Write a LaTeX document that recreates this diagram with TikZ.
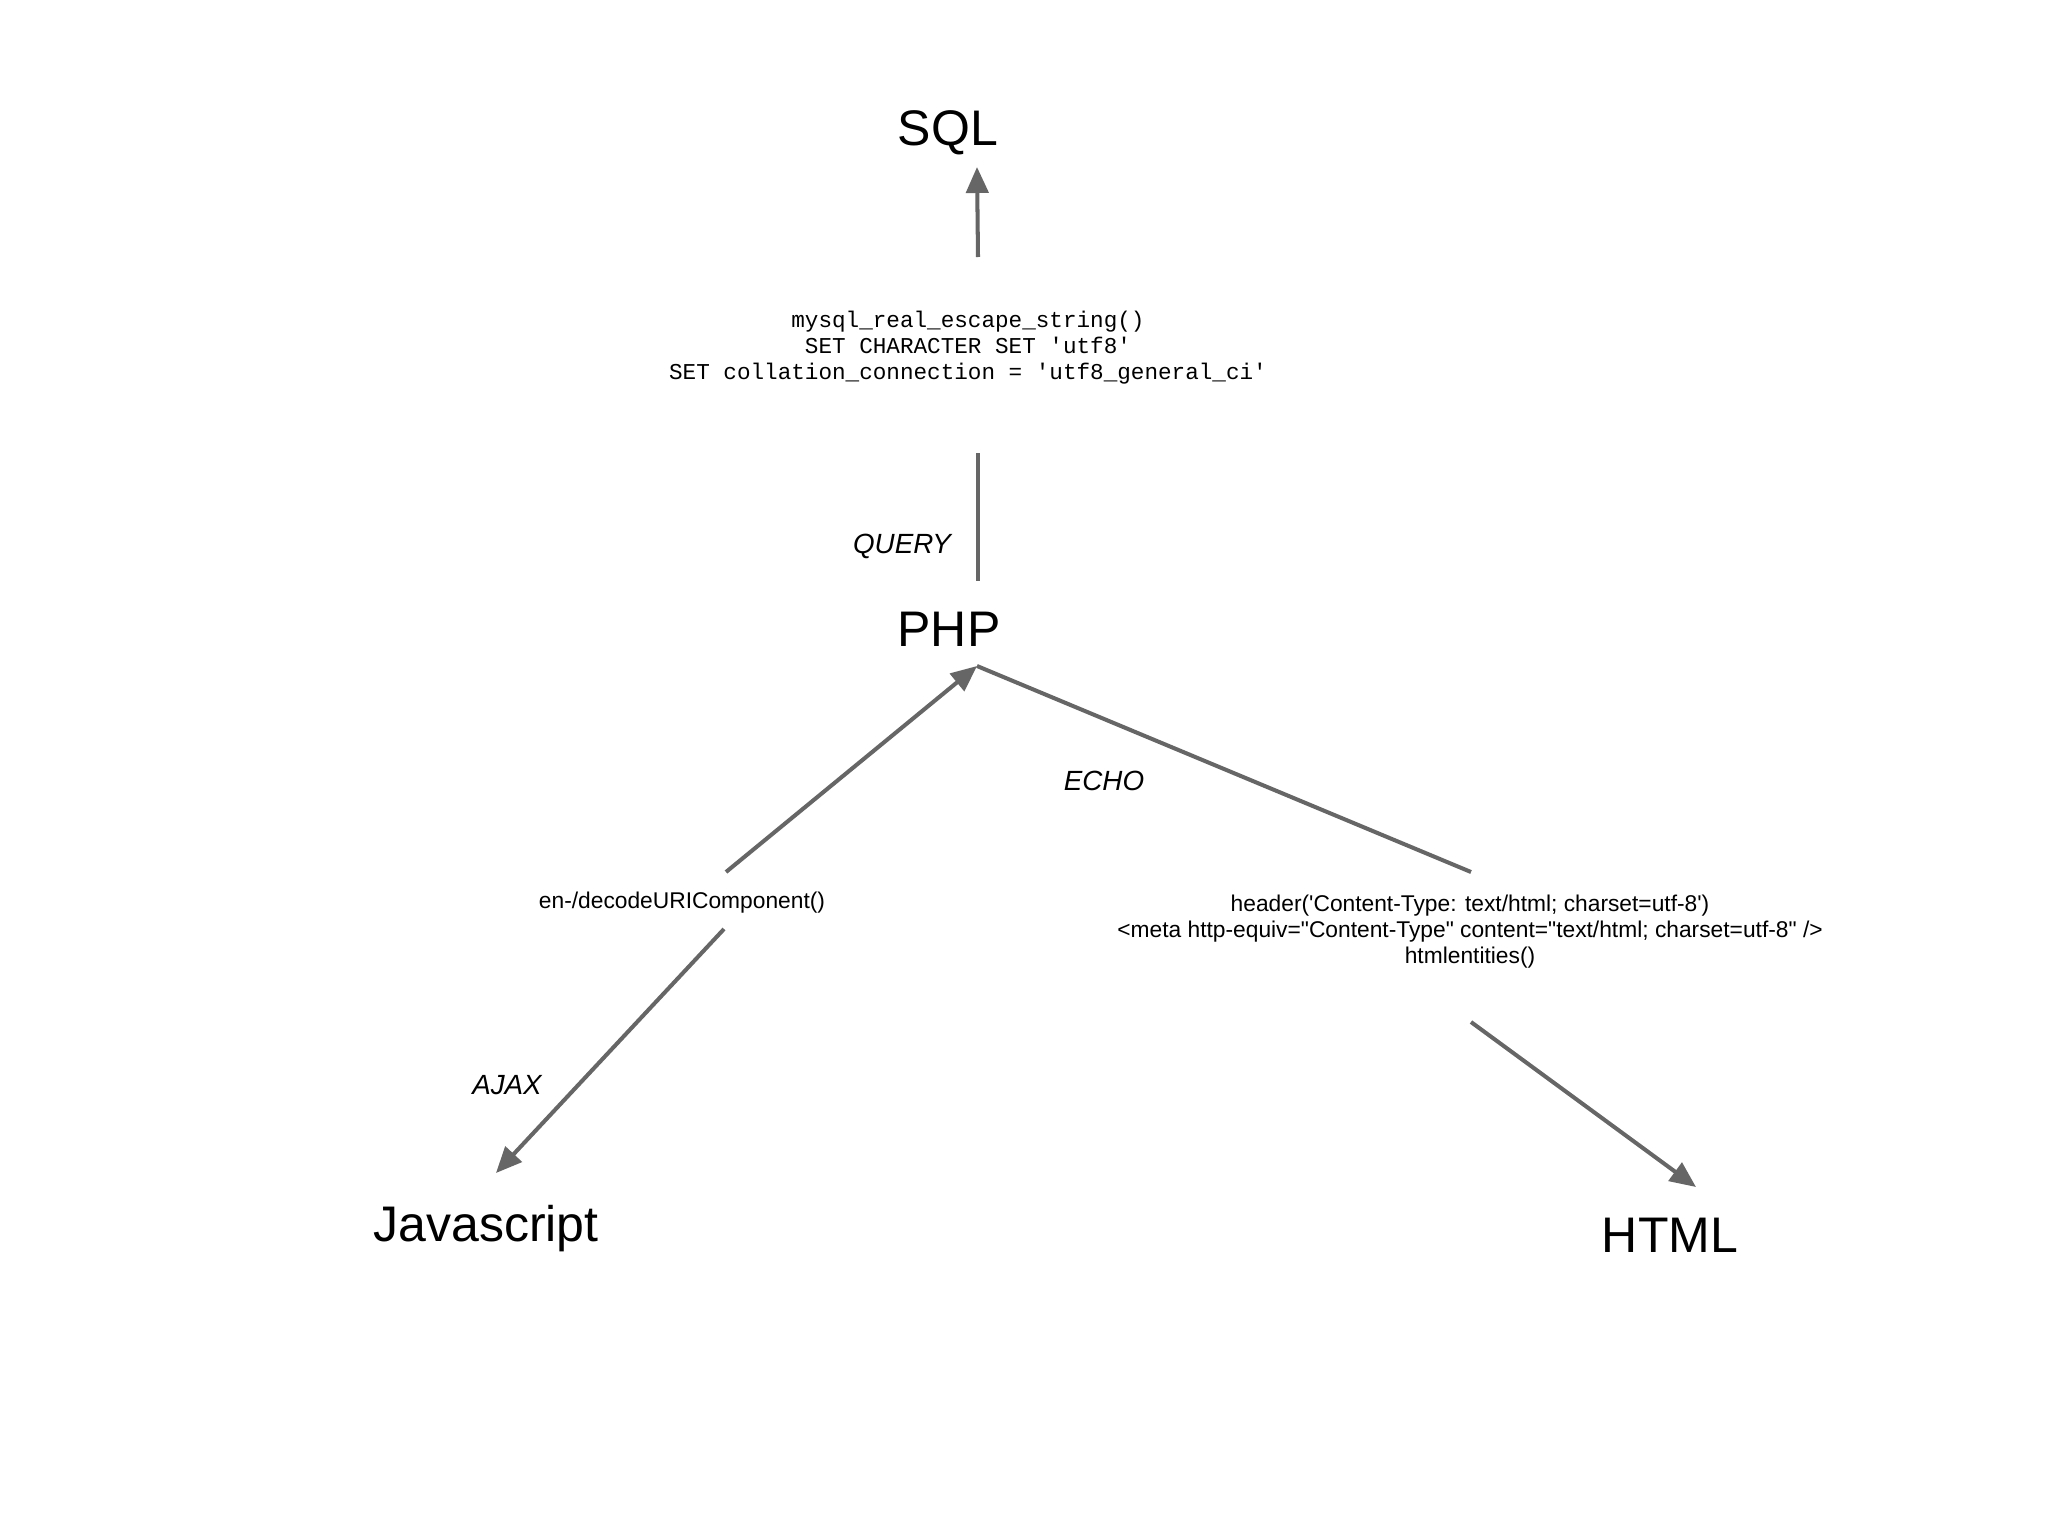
\documentclass[tikz,border=0pt]{standalone}
\usepackage{fontspec}
\setmainfont{Liberation Sans}[Ligatures=TeXOff]
\setmonofont{Liberation Mono}
\usetikzlibrary{arrows.meta,calc}
\definecolor{linkgray}{HTML}{666666}

\begin{document}
\begin{tikzpicture}[x=0.72pt, y=-0.72pt,
        every node/.style={inner sep=0pt, align=center},
        lang/.style={font=\fontsize{36}{40}\selectfont},
        via/.style={font=\fontsize{20}{24}\selectfont\itshape},
        fn/.style={font=\fontsize{16.4}{18.7}\selectfont},
        sqlcode/.style={font=\fontsize{16.3}{18.7}\selectfont\ttfamily},
        link/.style={draw=linkgray, line width=2.9pt},
        arr/.style={link, -{Triangle[length=18.7pt, width=16pt]}}]
        \fill[white] (0,0) rectangle (2048,1536);
        \node[lang] (sql) at (948,133) {SQL};
        \node[sqlcode] (escape) at (968,348) {mysql\_real\_escape\_string()\\SET CHARACTER SET 'utf8'\\SET collation\_connection = 'utf8\_general\_ci'};
        \node[lang] (php) at (949,629) {PHP};
        \node[via] (query) at (902,546) {QUERY};
        \node[fn] (uri) at (682,903) {en-/decodeURIComponent()};
        \node[via] (ajax) at (507,1085) {AJAX};
        \node[lang] (js) at (486,1229) {Javascript};
        \node[via] (echo) at (1104,781) {ECHO};
        \node[fn] (header) at (1470,932) {header('Content-Type: text/html; charset=utf-8')\\<meta http-equiv="Content-Type" content="text/html; charset=utf-8" />\\htmlentities()};
        \node[lang] (html) at (1670,1235) {HTML};
        \draw[arr] ($(escape)+(10,-91)$) -- ($(sql)+(29,34)$);
        \draw[link] ($(escape)+(10,105)$) -- ($(php)+(29,-48)$);
        \draw[arr] ($(uri)+(44,-31)$) -- ($(php)+(28,37)$);
        \draw[link] ($(php)+(28,37)$) -- ($(header)+(1,-60)$);
        \draw[arr] ($(uri)+(42,26)$) -- ($(js)+(10,-56)$);
        \draw[arr] ($(header)+(1,90)$) -- ($(html)+(26,-48)$);
    \end{tikzpicture}
\end{document}
